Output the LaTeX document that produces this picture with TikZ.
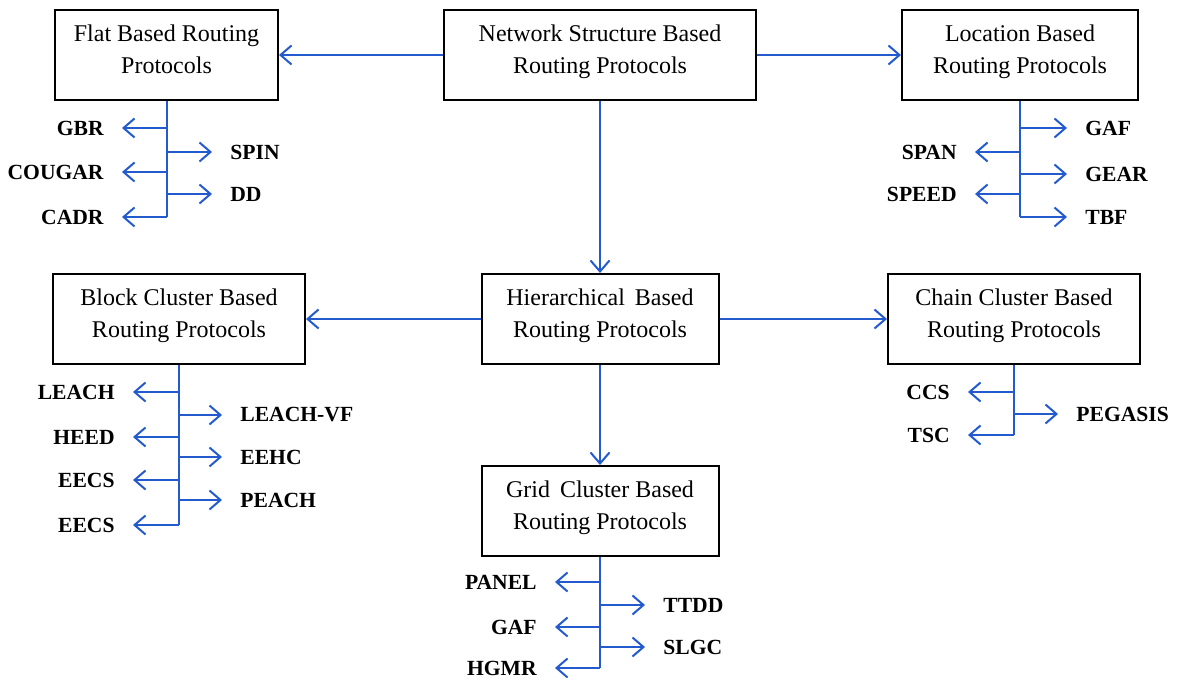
\documentclass[tikz,border=0pt]{standalone}
\usepackage{fontspec}
\setmainfont{Liberation Serif}
\usepackage{tikz}
\usetikzlibrary{arrows.meta,positioning}

\definecolor{linkblue}{RGB}{35,90,205}

\begin{document}
\begin{tikzpicture}[
  x=0.5pt, y=-0.5pt,
  box/.style={rectangle, draw=black, line width=1pt, align=center, minimum height=45pt, font=\fontsize{12}{16}\selectfont, text depth=5.5pt},
  leafl/.style={anchor=east, inner xsep=9pt, inner ysep=1pt, font=\bfseries\fontsize{10.8}{13}\selectfont},
  leafr/.style={anchor=west, inner xsep=9pt, inner ysep=1pt, font=\bfseries\fontsize{10.8}{13}\selectfont},
  line/.style={draw=linkblue, line width=1pt},
  arrow/.style={line, -{Straight Barb[length=5.5pt,width=9.5pt]}}
]
\useasboundingbox (0,0) rectangle (1181,678);

% main boxes
\node[box, minimum width=156pt] (net) at (600,55) {Network Structure Based\\Routing Protocols};
\node[box, minimum width=111.5pt] (flat) at (166.5,55) {Flat Based Routing\\Protocols};
\node[box, minimum width=118pt] (loc) at (1020,55) {Location Based\\Routing Protocols};
\node[box, minimum width=118.5pt] (hier) at (600,319) {Hierarchical\, Based\\Routing Protocols};
\node[box, minimum width=126pt] (block) at (179,319) {Block Cluster Based\\Routing Protocols};
\node[box, minimum width=126pt] (chain) at (1014,319) {Chain Cluster Based\\Routing Protocols};
\node[box, minimum width=118.5pt] (grid) at (600,511) {Grid\, Cluster Based\\Routing Protocols};

\draw[arrow] (net) -- (flat);
\draw[arrow] (net) -- (loc);
\draw[arrow] (net) -- (hier);
\draw[arrow] (hier) -- (block);
\draw[arrow] (hier) -- (chain);
\draw[arrow] (hier) -- (grid);

% flat protocols
\node[leafl] (gbr) at (122,128) {GBR};
\node[leafl] (cougar) at (122,172) {COUGAR};
\node[leafl] (cadr) at (122,217) {CADR};
\node[leafr] (spin) at (212,152) {SPIN};
\node[leafr] (dd) at (212,194) {DD};
\draw[line] (flat.south) -- (flat.south |- cadr);
\draw[arrow] (flat.south |- gbr) -- (gbr);
\draw[arrow] (flat.south |- cougar) -- (cougar);
\draw[arrow] (flat.south |- cadr) -- (cadr);
\draw[arrow] (flat.south |- spin) -- (spin);
\draw[arrow] (flat.south |- dd) -- (dd);

% location protocols
\node[leafr] (gafloc) at (1067,128) {GAF};
\node[leafr] (gear) at (1067,174) {GEAR};
\node[leafr] (tbf) at (1067,217) {TBF};
\node[leafl] (span) at (975,152) {SPAN};
\node[leafl] (speed) at (975,194) {SPEED};
\draw[line] (loc.south) -- (loc.south |- tbf);
\draw[arrow] (loc.south |- gafloc) -- (gafloc);
\draw[arrow] (loc.south |- gear) -- (gear);
\draw[arrow] (loc.south |- tbf) -- (tbf);
\draw[arrow] (loc.south |- span) -- (span);
\draw[arrow] (loc.south |- speed) -- (speed);

% block cluster protocols
\node[leafl] (leach) at (133,392) {LEACH};
\node[leafl] (heed) at (133,437) {HEED};
\node[leafl] (eecsa) at (133,480) {EECS};
\node[leafl] (eecsb) at (133,525) {EECS};
\node[leafr] (leachvf) at (222,415) {LEACH-VF};
\node[leafr] (eehc) at (222,457) {EEHC};
\node[leafr] (peach) at (222,500) {PEACH};
\draw[line] (block.south) -- (block.south |- eecsb);
\draw[arrow] (block.south |- leach) -- (leach);
\draw[arrow] (block.south |- heed) -- (heed);
\draw[arrow] (block.south |- eecsa) -- (eecsa);
\draw[arrow] (block.south |- eecsb) -- (eecsb);
\draw[arrow] (block.south |- leachvf) -- (leachvf);
\draw[arrow] (block.south |- eehc) -- (eehc);
\draw[arrow] (block.south |- peach) -- (peach);

% chain cluster protocols
\node[leafl] (ccs) at (968,392) {CCS};
\node[leafl] (tsc) at (968,435) {TSC};
\node[leafr] (pegasis) at (1058,414) {PEGASIS};
\draw[line] (chain.south) -- (chain.south |- tsc);
\draw[arrow] (chain.south |- ccs) -- (ccs);
\draw[arrow] (chain.south |- tsc) -- (tsc);
\draw[arrow] (chain.south |- pegasis) -- (pegasis);

% grid cluster protocols
\node[leafl] (panel) at (555,582) {PANEL};
\node[leafl] (gafgrid) at (555,627) {GAF};
\node[leafl] (hgmr) at (555,668) {HGMR};
\node[leafr] (ttdd) at (645,605) {TTDD};
\node[leafr] (slgc) at (645,647) {SLGC};
\draw[line] (grid.south) -- (grid.south |- hgmr);
\draw[arrow] (grid.south |- panel) -- (panel);
\draw[arrow] (grid.south |- gafgrid) -- (gafgrid);
\draw[arrow] (grid.south |- hgmr) -- (hgmr);
\draw[arrow] (grid.south |- ttdd) -- (ttdd);
\draw[arrow] (grid.south |- slgc) -- (slgc);
\end{tikzpicture}
\end{document}
